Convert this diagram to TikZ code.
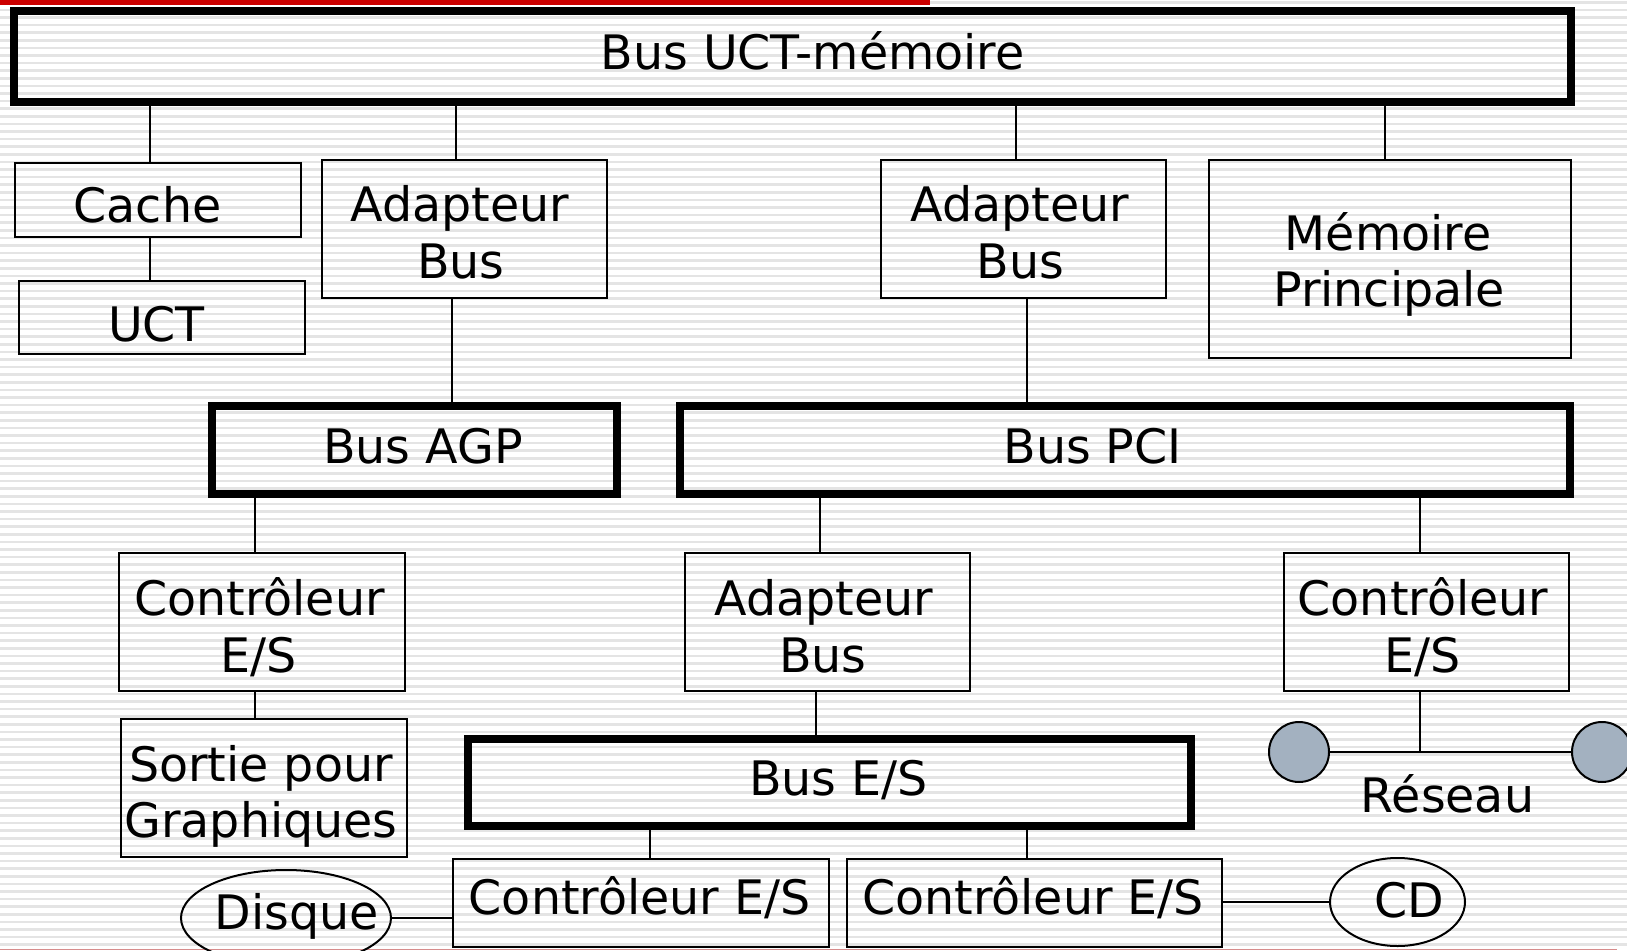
\documentclass[tikz,border=0pt]{standalone}
\usepackage{fontspec}
\setmainfont{DejaVu Sans}
\usetikzlibrary{shapes.geometric}
\definecolor{stripe}{RGB}{228,228,228}
\definecolor{topbar}{RGB}{204,0,0}
\definecolor{edgered}{RGB}{214,140,140}
\definecolor{netfill}{RGB}{163,177,192}
\tikzset{
  box/.style={draw, rectangle, line width=2pt, inner sep=0pt},
  bus/.style={draw, rectangle, line width=8pt, inner sep=0pt},
  disk/.style={draw, ellipse, line width=2pt, inner sep=0pt},
  netnode/.style={draw, circle, line width=2pt, fill=netfill, inner sep=0pt, minimum size=60pt},
  wire/.style={line width=2pt},
  txt/.style={anchor=base, inner sep=0pt, font=\fontsize{47.5}{57}\selectfont},
}
\begin{document}
\begin{tikzpicture}[x=1pt,y=-1pt]
\useasboundingbox (0,0) rectangle (1627,950);
\clip (0,0) rectangle (1627,950);
% striped page background
\fill[white] (0,0) rectangle (1627,950);
\foreach \i in {0,...,125} \fill[stripe] (0,{\i*7.6+1}) rectangle (1627,{\i*7.6+3.6});
\fill[topbar] (0,0) rectangle (930,5.5);
\draw[edgered, line width=1.2pt] (0,949.2) -- (1617,949.2);

% buses
\node[bus, minimum width=1557pt, minimum height=91pt] (bucm) at (792.5,56.5) {};
\node[bus, minimum width=405pt, minimum height=88.5pt] (bagp) at (414,449.75) {};
\node[bus, minimum width=890.5pt, minimum height=88.5pt] (bpci) at (1124.75,449.75) {};
\node[bus, minimum width=723.5pt, minimum height=87.4pt] (bes) at (829.55,782.3) {};

% units
\node[box, minimum width=286pt, minimum height=74pt] (cache) at (158,200) {};
\node[box, minimum width=286pt, minimum height=73pt] (uct) at (162,317.5) {};
\node[box, minimum width=285.4pt, minimum height=138pt] (ad1) at (464.3,228.8) {};
\node[box, minimum width=285pt, minimum height=138pt] (ad2) at (1023.5,229) {};
\node[box, minimum width=362pt, minimum height=198pt] (mem) at (1390,259) {};
\node[box, minimum width=285.7pt, minimum height=138pt] (ctl) at (261.9,622) {};
\node[box, minimum width=286pt, minimum height=138pt] (gfx) at (264,788) {};
\node[box, minimum width=285.2pt, minimum height=138pt] (ad3) at (827.4,622) {};
\node[box, minimum width=285.5pt, minimum height=138pt] (ctr) at (1426.25,622) {};
\node[box, minimum width=376pt, minimum height=88pt] (cbl) at (641,903) {};
\node[box, minimum width=375.4pt, minimum height=88pt] (cbr) at (1034.3,903) {};
\node[disk, minimum width=210pt, minimum height=96pt] (disque) at (286,918) {};
\node[disk, minimum width=135pt, minimum height=88pt] (cd) at (1397.5,902) {};
\node[netnode] (n1) at (1299,752) {};
\node[netnode] (n2) at (1602,752) {};

% labels
\node[txt] (t1) at (812.5,69.5) {Bus UCT-mémoire};
\node[txt] (t2) at (147.5,222.7) {Cache};
\node[txt] (t3) at (156.5,341) {UCT};
\node[txt] (t4) at (460,221) {Adapteur};
\node[txt] (t5) at (461,278) {Bus};
\node[txt] (t6) at (1020,221) {Adapteur};
\node[txt] (t7) at (1020.5,278) {Bus};
\node[txt] (t8) at (1388,250) {Mémoire};
\node[txt] (t9) at (1389,306.7) {Principale};
\node[txt] (t10) at (423,463) {Bus AGP};
\node[txt] (t11) at (1092.6,463) {Bus PCI};
\node[txt] (t12) at (259.4,615) {Contrôleur};
\node[txt] (t13) at (259,672) {E/S};
\node[txt] (t14) at (261,781) {Sortie pour};
\node[txt] (t15) at (261,837) {Graphiques};
\node[txt] (t16) at (824,615) {Adapteur};
\node[txt] (t17) at (823,672) {Bus};
\node[txt] (t18) at (1423,615) {Contrôleur};
\node[txt] (t19) at (1423,672) {E/S};
\node[txt] (t20) at (838.4,795) {Bus E/S};
\node[txt] (t21) at (639.7,914.5) {Contrôleur E/S};
\node[txt] (t22) at (1033,914.5) {Contrôleur E/S};
\node[txt] (t23) at (296.7,929) {Disque};
\node[txt] (t24) at (1409,917) {CD};
\node[txt] (t25) at (1447.5,812) {Réseau};

% tap positions of the connectors
\coordinate (xa) at (150,0);
\coordinate (xb) at (456,0);
\coordinate (xc) at (1016,0);
\coordinate (xd) at (1385,0);
\coordinate (xe) at (452,0);
\coordinate (xf) at (1027,0);
\coordinate (xg) at (255,0);
\coordinate (xh) at (820,0);
\coordinate (xi) at (1420,0);
\coordinate (xj) at (815.6,0);
\coordinate (xk) at (649.5,0);
\coordinate (xl) at (1027,0);

% connectors
\draw[wire] (bucm.south -| xa) -- (cache.north -| xa);
\draw[wire] (cache.south -| xa) -- (uct.north -| xa);
\draw[wire] (bucm.south -| xb) -- (ad1.north -| xb);
\draw[wire] (bucm.south -| xc) -- (ad2.north -| xc);
\draw[wire] (bucm.south -| xd) -- (mem.north -| xd);
\draw[wire] (ad1.south -| xe) -- (bagp.north -| xe);
\draw[wire] (ad2.south -| xf) -- (bpci.north -| xf);
\draw[wire] (bagp.south -| xg) -- (ctl.north -| xg);
\draw[wire] (ctl.south -| xg) -- (gfx.north -| xg);
\draw[wire] (bpci.south -| xh) -- (ad3.north -| xh);
\draw[wire] (bpci.south -| xi) -- (ctr.north -| xi);
\draw[wire] (ad3.south -| xj) -- (bes.north -| xj);
\draw[wire] (bes.south -| xk) -- (cbl.north -| xk);
\draw[wire] (bes.south -| xl) -- (cbr.north -| xl);
\draw[wire] (disque.east) -- (cbl.west |- disque.east);
\draw[wire] (cbr.east |- cd.west) -- (cd.west);
\draw[wire] (n1.east) -- (n2.west);
\draw[wire] (ctr.south -| xi) -- (n1.east -| xi);
\end{tikzpicture}
\end{document}
